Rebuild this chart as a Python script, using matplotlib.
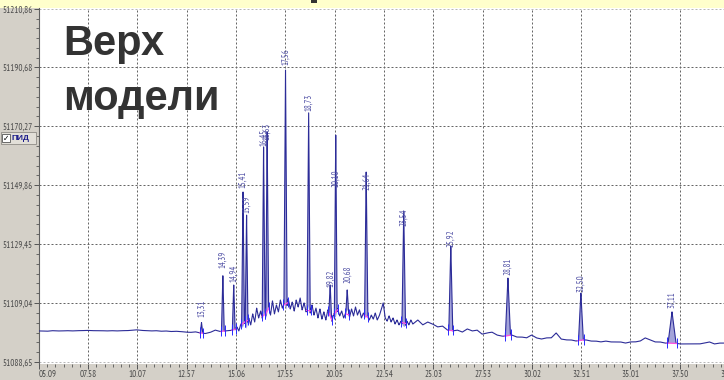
import numpy as np
import matplotlib
matplotlib.use("Agg")
import matplotlib.pyplot as plt
from matplotlib.patches import Rectangle

NARROW = ['PT Sans Narrow', 'Archivo Narrow', 'DejaVu Sans']
plt.rcParams['font.family'] = NARROW

# ---- axis ticks -------------------------------------------------------------
x_ticks = [5.09, 7.58, 10.07, 12.57, 15.06, 17.55, 20.05, 22.54, 25.03,
           27.53, 30.02, 32.51, 35.01, 37.50, 39.99]
x_tick_labels = ["05.09", "07.58", "10.07", "12.57", "15.06", "17.55", "20.05",
                 "22.54", "25.03", "27.53", "30.02", "32.51", "35.01", "37.50",
                 "39.99"]
y_ticks = [51088.65, 51109.04, 51129.45, 51149.86, 51170.27, 51190.68, 51210.86]
y_tick_labels = ["51088,65", "51109,04", "51129,45", "51149,86", "51170,27",
                 "51190,68", "51210,86"]

# ---- detector baseline (three sampled stretches) ----------------------------
base_early = [51099.4, 51099.4, 51099.3, 51099.5, 51099.4, 51099.4, 51099.5,
              51099.4, 51099.5, 51099.5, 51099.6, 51099.5, 51099.5, 51099.5,
              51099.4, 51099.5, 51099.4, 51099.5, 51099.5, 51099.6, 51099.8,
              51099.6, 51099.5, 51099.4, 51099.5, 51099.3, 51099.4, 51099.2,
              51099.3, 51099.2, 51099.0, 51098.9, 51099.1, 51098.7, 51098.5,
              51098.9, 51099.7, 51099.2, 51099.4, 51099.6]          # 5.00 .. 14.75
base_mid = [51099.7, 51100.8, 51099.4, 51101.8, 51100.4, 51102.5, 51100.1,
            51103.9, 51101.5, 51105.3, 51102.5, 51107.3, 51103.9, 51106.3,
            51103.2, 51106.0, 51103.9, 51108.0, 51104.9, 51109.8, 51105.3,
            51108.4, 51106.0, 51110.1, 51107.3, 51109.1, 51106.7, 51110.5,
            51107.0, 51109.4, 51106.3, 51110.1, 51107.7, 51110.8, 51106.7,
            51109.1, 51106.0, 51108.0, 51105.3, 51108.4, 51104.9, 51107.3,
            51103.9, 51107.0, 51103.5, 51106.0, 51103.2, 51106.7, 51104.6,
            51102.8, 51105.3, 51103.9, 51107.0, 51104.6, 51106.3, 51103.9,
            51105.6, 51106.7, 51104.2, 51107.0, 51104.6, 51107.7, 51104.9,
            51106.7, 51103.9, 51105.6, 51103.9, 51104.6, 51103.2, 51104.9,
            51103.5, 51105.6, 51103.2, 51104.6, 51106.7, 51109.1, 51103.9,
            51102.8, 51104.6, 51102.5, 51103.9, 51101.8, 51103.2, 51101.5,
            51102.8, 51101.1, 51100.8, 51102.8, 51101.5, 51103.2, 51101.8]  # 15.0 .. 24.0
base_late = [51103.2, 51101.5, 51102.5, 51101.8, 51100.8, 51101.1, 51099.7,
             51099.4, 51099.7, 51099.0, 51100.1, 51099.4, 51099.7, 51098.3,
             51098.7, 51099.0, 51098.0, 51097.6, 51097.6, 51098.0, 51097.3,
             51097.3, 51097.0, 51098.0, 51097.0, 51096.6, 51097.0, 51097.0,
             51098.7, 51096.6, 51096.3, 51096.3, 51095.9, 51096.3, 51096.3,
             51095.9, 51095.9, 51095.6, 51095.9, 51095.6, 51095.6, 51095.6,
             51095.2, 51095.6, 51095.6, 51095.9, 51097.0, 51096.3, 51095.6,
             51095.6, 51095.2, 51095.2, 51095.2, 51094.9, 51094.9, 51094.9,
             51094.9, 51094.9, 51095.2, 51095.6, 51094.9, 51095.2, 51095.2,
             51095.2]                                                # 24.25 .. 40.0

# ---- integrated peaks -------------------------------------------------------
peak_rt = [13.31, 14.39, 14.94, 15.41, 15.59, 16.45, 16.63, 17.56, 18.73,
           19.82, 20.10, 20.68, 21.64, 23.54, 25.92, 28.81, 32.50, 37.11]
peak_apex = [51102.3, 51118.5, 51115.3, 51147.5, 51139.5, 51163.1, 51168.3,
             51189.7, 51174.9, 51115.3, 51167.2, 51113.6, 51154.4, 51140.9,
             51128.8, 51117.7, 51112.5, 51106.0]
peak_halfwidth = [0.06, 0.07, 0.07, 0.07, 0.07, 0.07, 0.07, 0.08, 0.08, 0.07,
                  0.07, 0.07, 0.08, 0.09, 0.10, 0.13, 0.12, 0.20]
peak_label_y = [51104.2, 51121.2, 51116.4, 51148.9, 51140.2, 51163.4, 51165.5,
                51191.5, 51175.5, 51114.6, 51149.2, 51116.0, 51148.2, 51135.7,
                51128.5, 51118.8, 51112.9, 51107.3]

# ---- build trace ------------------------------------------------------------
bt = np.concatenate([np.linspace(5.0, 14.75, len(base_early)),
                     np.linspace(15.0, 24.0, len(base_mid)),
                     np.linspace(24.25, 40.0, len(base_late))])
bv = np.array(base_early + base_mid + base_late)

t = np.linspace(5.0, 40.0, 14001)
base = np.interp(t, bt, bv)
bump = np.zeros_like(t)
for rt, apex, hw in zip(peak_rt, peak_apex, peak_halfwidth):
    h = apex - np.interp(rt, bt, bv)
    tri = h * np.clip(1 - np.abs(t - rt) / hw, 0, None)
    bump = np.maximum(bump, tri)
signal = base + bump

# ---- figure -----------------------------------------------------------------
W, H = 724, 380
fig = plt.figure(figsize=(W / 100, H / 100), dpi=100, facecolor='#d4d0c8')

# top status strip (behind the plot panel)
fig.add_artist(Rectangle((0, 1 - 8 / H), 1, 8 / H, transform=fig.transFigure,
                         facecolor='#ffffcc', edgecolor='none', zorder=-1))

x0, x1 = 5.09, 40.2
ax = fig.add_axes([39 / W, 16 / H, 694.1 / W, 356 / H])
ax.set_facecolor('white')
ax.set_xlim(x0, x1)
ax.set_ylim(51087.96, 51211.20)

grid_kw = dict(lw=0.72, dashes=(2, 2), zorder=1)
for xv in x_ticks[1:]:
    ax.axvline(xv, color='#666666', **grid_kw)
for i, yv in enumerate(y_ticks):
    edge = i in (0, len(y_ticks) - 1)
    ax.axhline(yv, color='#b8b8b8' if edge else '#666666', **grid_kw)

ax.fill_between(t, base, signal, where=bump > 0, color='#a4a4da', lw=0, zorder=2)
ax.plot(t, signal, color='#2c2c98', lw=0.8, zorder=3)

# integration marks
for rt, hw in zip(peak_rt, peak_halfwidth):
    s, e = rt - 1.3 * hw, rt + 1.3 * hw
    bs, be = np.interp([s, e], bt, bv)
    ax.plot([s, e], [bs, be], color='#ff4fe0', lw=0.9, zorder=4)
    ax.vlines([s, e], [bs - 1.6, be - 1.6], [bs + 2.0, be + 2.0],
              color='#2a2aff', lw=0.7, zorder=4)

for rt, ly in zip(peak_rt, peak_label_y):
    ax.text(rt, ly, f"{rt:.2f}".replace('.', ','), rotation=90, ha='center',
            va='bottom', fontsize=6.3, color='#5252a6', zorder=5)

ax.set_xticks(x_ticks, x_tick_labels)
ax.set_yticks(y_ticks, y_tick_labels)

def minors(majors):
    out = []
    for a, b in zip(majors[:-1], majors[1:]):
        out += [a + (b - a) * k / 6 for k in range(1, 6)]
    return out

ax.set_xticks(minors(x_ticks), minor=True)
ax.set_yticks(minors(y_ticks), minor=True)
ax.tick_params(axis='both', which='major', direction='out', length=3.5,
               width=0.7, color='#555555', labelsize=6.5, labelcolor='#4a4a4a',
               pad=1)
ax.tick_params(axis='both', which='minor', direction='out', length=2.2,
               width=0.6, color='#555555')
ax.get_xticklabels()[0].set_horizontalalignment('left')

for side in ('top', 'right', 'bottom'):
    ax.spines[side].set_visible(False)
ax.spines['left'].set_color('#606060')
ax.spines['left'].set_linewidth(0.8)

fig.add_artist(Rectangle((311 / W, 1 - 3 / H), 6 / W, 3 / H,
                         transform=fig.transFigure, facecolor='#333333',
                         edgecolor='none', zorder=6))

# channel selector
fig.add_artist(Rectangle((0.5 / W, 1 - 144 / H), 35 / W, 12 / H,
                         transform=fig.transFigure, facecolor='#e2dfd8',
                         edgecolor='#8f8c86', lw=0.6, zorder=6))
fig.add_artist(Rectangle((2 / W, 1 - 142 / H), 8 / W, 8 / H,
                         transform=fig.transFigure, facecolor='white',
                         edgecolor='#555555', lw=0.6, zorder=7))
fig.text(6 / W, 1 - 138.3 / H, '\u2713', family=['DejaVu Sans'], fontsize=5.5,
         fontweight='bold', ha='center', va='center', color='black', zorder=8)
fig.text(11.5 / W, 1 - 138 / H, 'ПИД', family=['Liberation Sans', 'DejaVu Sans'],
         fontsize=6, fontweight='bold', ha='left', va='center', color='#1c1c8a',
         zorder=8)

# caption
cap_kw = dict(family=['Liberation Sans', 'DejaVu Sans'], fontsize=30,
              fontweight='bold', color='#333333', ha='left', va='baseline',
              zorder=9)
fig.text(63 / W, 1 - 55 / H, 'Верх', **cap_kw)
fig.text(63 / W, 1 - 110 / H, 'модели', **cap_kw)

fig.savefig('out.png', dpi=100, facecolor=fig.get_facecolor())
